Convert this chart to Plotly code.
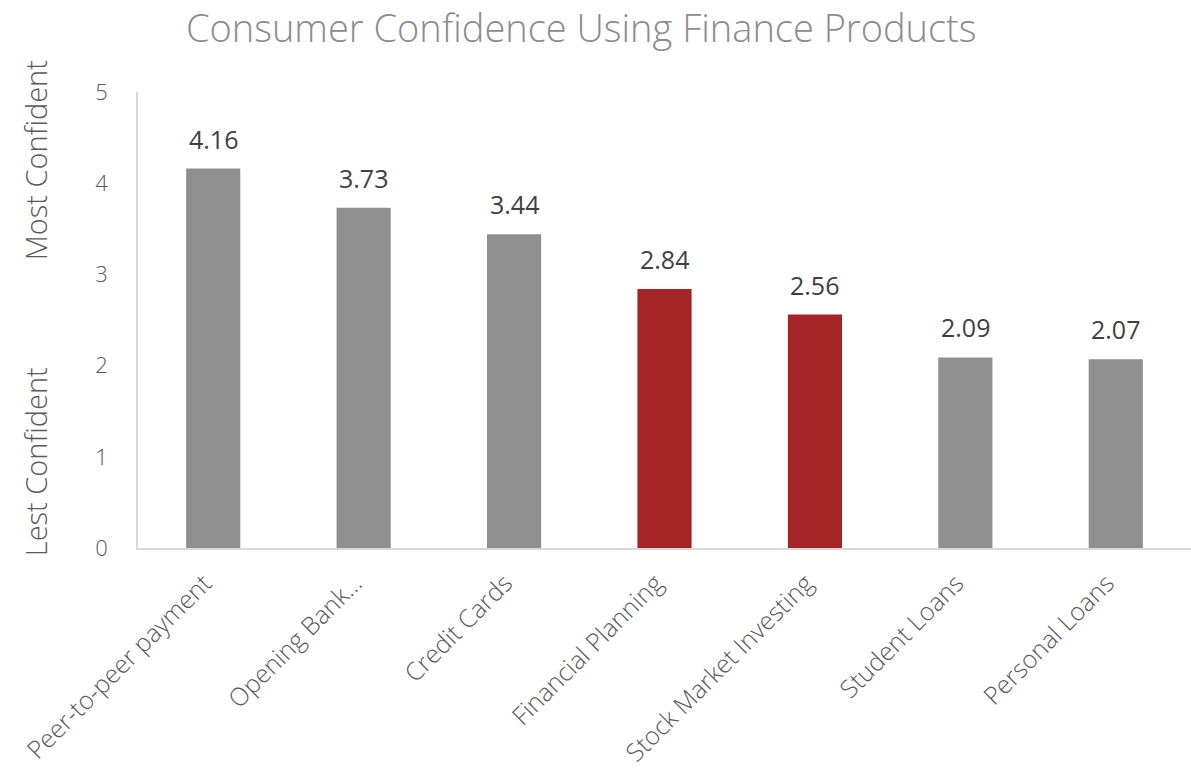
import plotly.graph_objects as go

categories = [
    "Peer-to-peer payment",
    "Opening Bank…",
    "Credit Cards",
    "Financial Planning",
    "Stock Market Investing",
    "Student Loans",
    "Personal Loans",
]
scores = [4.16, 3.73, 3.44, 2.84, 2.56, 2.09, 2.07]
highlighted = [False, False, False, True, True, False, False]

GRAY = "#8f8f8f"
RED = "#a52428"
FONT = "Open Sans, Lato, sans-serif"

colors = [RED if h else GRAY for h in highlighted]

fig = go.Figure(
    go.Bar(
        x=categories,
        y=scores,
        marker=dict(color=colors, line=dict(width=0)),
        hoverinfo="x+y",
    )
)

# value labels above each bar
for cat, val in zip(categories, scores):
    fig.add_annotation(
        x=cat, y=val, text=f"{val:.2f}", showarrow=False,
        yanchor="bottom", yshift=11,
        font=dict(family=FONT, size=25, color="#404040"),
    )

# y-axis captions for the two ends of the scale
fig.add_annotation(
    xref="paper", yref="paper", x=-0.097, y=0.85, text="Most Confident",
    textangle=-90, showarrow=False, xanchor="center", yanchor="middle",
    font=dict(family=FONT, size=29, color="#595959", weight=300),
)
fig.add_annotation(
    xref="paper", yref="paper", x=-0.097, y=0.19, text="Lest Confident",
    textangle=-90, showarrow=False, xanchor="center", yanchor="middle",
    font=dict(family=FONT, size=29, color="#595959", weight=300),
)

fig.update_layout(
    width=1191,
    height=774,
    margin=dict(l=138, r=0, t=92, b=226),
    paper_bgcolor="white",
    plot_bgcolor="white",
    bargap=0.64,
    showlegend=False,
    title=dict(
        text="Consumer Confidence Using Finance Products",
        x=0.488, xanchor="center", y=0.963, yanchor="middle",
        font=dict(family=FONT, size=38, color="#8c8c8c", weight=300),
    ),
    xaxis=dict(
        tickangle=-45,
        tickfont=dict(family=FONT, size=25, color="#595959", weight=300),
        showline=True, linecolor="#d9d9d9", linewidth=1.5,
        showgrid=False, ticks="",
        ticklabelstandoff=9,
        ticklabelshift=-9,
        automargin=False,
    ),
    yaxis=dict(
        range=[0, 5],
        dtick=1,
        tickfont=dict(family=FONT, size=22, color="#595959", weight=300),
        showline=True, linecolor="#d9d9d9", linewidth=1.5,
        showgrid=False, zeroline=False, ticks="",
        ticklabelstandoff=24,
        automargin=False,
    ),
)

fig.write_html("out.html")
